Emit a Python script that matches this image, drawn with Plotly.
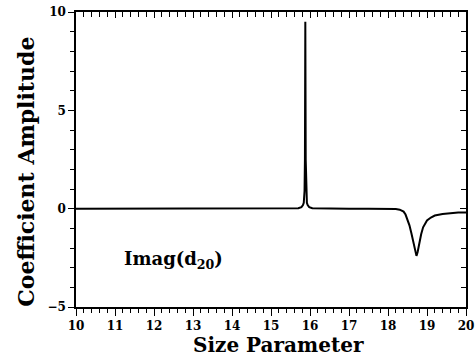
import plotly.graph_objects as go

# Data
size_param = [10.0, 11.0, 12.0, 13.0, 14.0, 15.0, 15.5, 15.70, 15.78, 15.82, 15.84, 15.86,
              15.87, 15.88, 15.89, 15.90, 15.92, 15.94, 15.98, 16.06, 16.5, 17.0, 17.5,
              18.0, 18.2, 18.3, 18.4, 18.45, 18.5, 18.55, 18.6, 18.65, 18.7, 18.73,
              18.76, 18.8, 18.85, 18.9, 18.95, 19.0, 19.1, 19.2, 19.4, 19.6, 19.8, 20.0]
imag_d20 = [0.0, 0.0, 0.0, 0.0, 0.0, 0.0, 0.0, 0.02, 0.08, 0.18, 0.3, 0.9,
            2.5, 9.5, 2.5, 0.9, 0.3, 0.18, 0.08, 0.02, 0.0, 0.0, 0.0,
            0.0, -0.02, -0.05, -0.15, -0.3, -0.55, -0.85, -1.25, -1.7, -2.2, -2.4,
            -2.2, -1.75, -1.3, -0.95, -0.75, -0.6, -0.45, -0.35, -0.27, -0.22, -0.2, -0.2]

x_ticks = [10, 11, 12, 13, 14, 15, 16, 17, 18, 19, 20]
y_ticks = [-5, 0, 5, 10]

FONT = "DejaVu Serif"

fig = go.Figure()
fig.add_trace(go.Scatter(x=size_param, y=imag_d20, mode="lines",
                         line=dict(color="black", width=2), showlegend=False,
                         hoverinfo="skip"))
# invisible trace to anchor the mirrored (top/right) axes
fig.add_trace(go.Scatter(x=[10, 20], y=[-5, 10], xaxis="x2", yaxis="y2", mode="markers",
                         marker=dict(opacity=0), showlegend=False, hoverinfo="skip"))

axis_common = dict(showgrid=False, zeroline=False, linecolor="black", linewidth=1.5,
                   tickcolor="black", tickwidth=1.3)

fig.update_layout(
    width=476, height=358,
    margin=dict(l=76, r=2, t=12, b=51),
    paper_bgcolor="white", plot_bgcolor="white",
    font=dict(family=FONT, color="black"),
    xaxis=dict(range=[10, 20], tickvals=x_ticks, ticks="outside", ticklen=7,
               ticklabeloverflow="allow",
               tickfont=dict(family=FONT, size=12, weight="bold"),
               minor=dict(dtick=0.2, ticks="outside", ticklen=4, tickcolor="black", tickwidth=1.2),
               **axis_common),
    yaxis=dict(range=[-5, 10], tickvals=y_ticks, ticks="outside", ticklen=6,
               tickfont=dict(family=FONT, size=12, weight="bold"),
               minor=dict(dtick=1, ticks="outside", ticklen=4, tickcolor="black", tickwidth=1.2),
               **axis_common),
    xaxis2=dict(range=[10, 20], overlaying="x", side="top", anchor="y", showticklabels=False,
                tickvals=x_ticks, ticks="inside", ticklen=6,
                minor=dict(dtick=0.2, ticks="inside", ticklen=5, tickcolor="black", tickwidth=1.2),
                **axis_common),
    yaxis2=dict(range=[-5, 10], overlaying="y", side="right", anchor="x", showticklabels=False,
                tickvals=y_ticks, ticks="inside", ticklen=6,
                minor=dict(dtick=1, ticks="inside", ticklen=5, tickcolor="black", tickwidth=1.2),
                **axis_common),
    annotations=[
        dict(text="Size Parameter", xref="paper", yref="paper", x=0.52, y=-0.13,
             xanchor="center", yanchor="middle", showarrow=False,
             font=dict(family=FONT, size=20, weight="bold")),
        dict(text="Coefficient Amplitude", xref="paper", yref="paper", x=-0.127, y=0.46,
             xanchor="center", yanchor="middle", textangle=-90, showarrow=False,
             font=dict(family=FONT, size=22, weight="bold")),
        dict(text="Imag(d<sub>20</sub>)", xref="x", yref="y", x=11.18, y=-2.6,
             xanchor="left", yanchor="middle", showarrow=False,
             font=dict(family=FONT, size=18, weight="bold")),
    ],
)

fig.write_html("out.html")
